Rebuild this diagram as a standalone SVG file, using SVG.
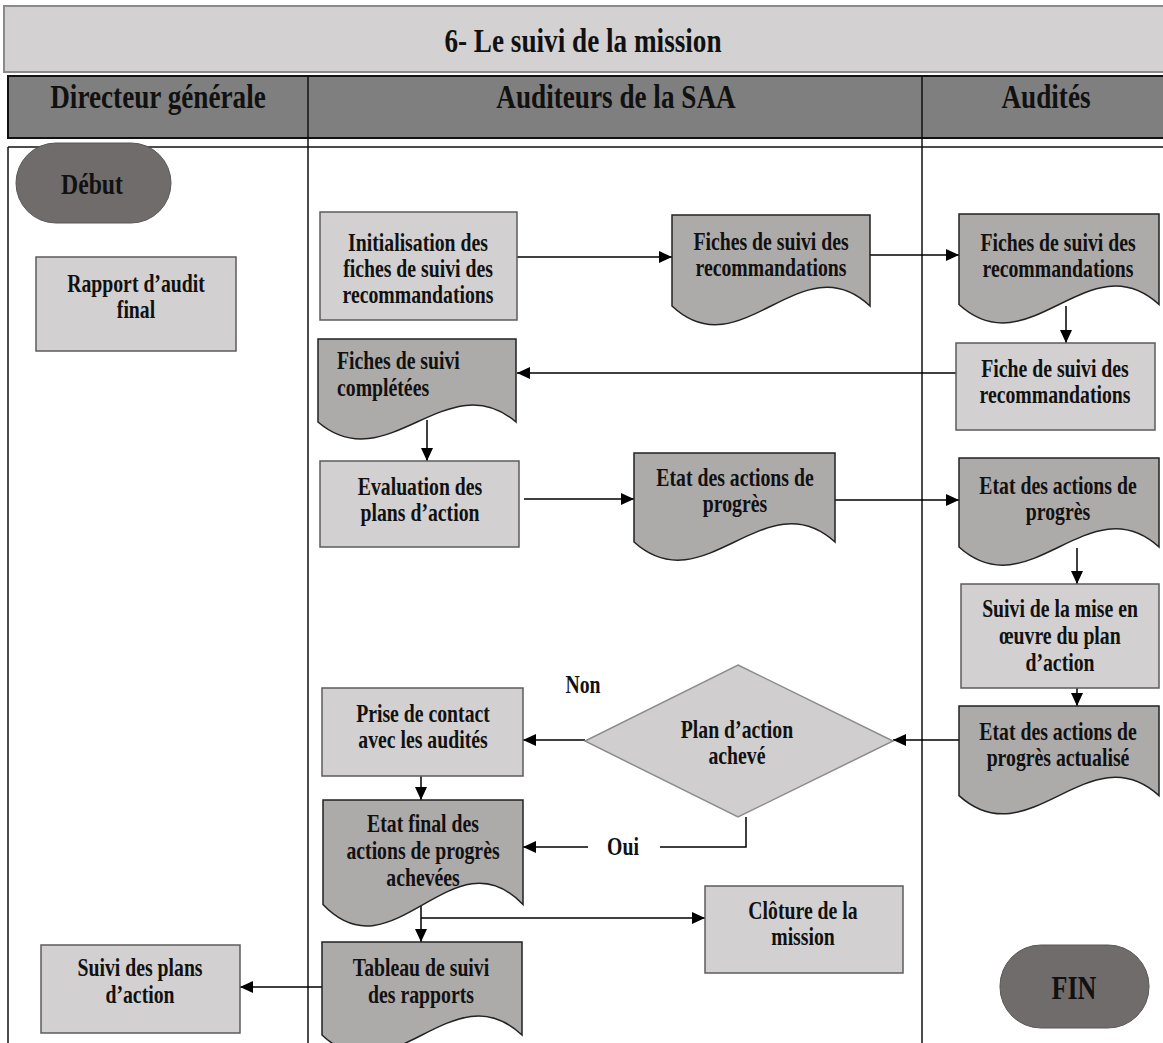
<svg xmlns="http://www.w3.org/2000/svg" width="1163" height="1043" viewBox="0 0 1163 1043">
  <defs>
    <marker id="arrow" markerUnits="userSpaceOnUse" markerWidth="13" markerHeight="12" refX="13" refY="6" orient="auto">
      <path d="M0,0 L13,6 L0,12 Z" fill="#000"/>
    </marker>
    <style>
      .txt { font-family: "Liberation Serif", "Times New Roman", serif; font-weight: bold; font-size: 25px; fill: #111; text-anchor: middle; }
      .left { text-anchor: start; }
      .head { font-size: 34px; }
      .term-t { font-size: 30px; }
      .proc { fill: #d2d0d1; stroke: #5c5c5c; stroke-width: 1.5; }
      .doc { fill: #adaaaa; stroke: #222; stroke-width: 1.5; }
      .term { fill: #706c6c; stroke: #5a5757; stroke-width: 1; }
      .dec { fill: #d0cece; stroke: #8c8c8c; stroke-width: 1.5; }
      .lane { stroke: #111; stroke-width: 1.5; fill: none; }
      .conn { stroke: #000; stroke-width: 1.5; fill: none; }
      .conn.a { marker-end: url(#arrow); }
    </style>
  </defs>

  <rect width="1163" height="1043" fill="#fff"/>

  <!-- swimlane frame: title band, lane headers, lane borders -->
  <g id="frame">
    <rect x="4" y="6" width="1160" height="66" fill="#d3d1d2" stroke="#8a8a8a" stroke-width="2"/>
    <text class="txt head" transform="translate(583 0) scale(0.8 1)"><tspan x="0" y="52">6- Le suivi de la mission</tspan></text>
    <rect x="8" y="76" width="1156" height="62" fill="#7f7f7f" stroke="#111" stroke-width="2"/>
    <line x1="308" y1="76" x2="308" y2="138" stroke="#111" stroke-width="1.5"/>
    <line x1="922" y1="76" x2="922" y2="138" stroke="#111" stroke-width="1.5"/>
    <text class="txt head" transform="translate(158 0) scale(0.8 1)"><tspan x="0" y="108">Directeur générale</tspan></text>
    <text class="txt head" transform="translate(616 0) scale(0.8 1)"><tspan x="0" y="108">Auditeurs de la SAA</tspan></text>
    <text class="txt head" transform="translate(1046 0) scale(0.8 1)"><tspan x="0" y="108">Audités</tspan></text>
    <line class="lane" x1="8" y1="147" x2="1163" y2="147" stroke-width="2"/>
    <line class="lane" x1="8" y1="147" x2="8" y2="1043"/>
    <line class="lane" x1="308" y1="138" x2="308" y2="1043"/>
    <line class="lane" x1="922" y1="138" x2="922" y2="1043"/>
  </g>

  <!-- connectors -->
  <g id="connectors">
    <line class="conn a" x1="517" y1="257" x2="672" y2="257"/>
    <line class="conn a" x1="870" y1="255" x2="959" y2="255"/>
    <line class="conn a" x1="1066" y1="306" x2="1066" y2="343"/>
    <line class="conn a" x1="956" y1="373" x2="517" y2="373"/>
    <line class="conn a" x1="427" y1="420" x2="427" y2="461"/>
    <line class="conn a" x1="524" y1="499" x2="634" y2="499"/>
    <line class="conn a" x1="835" y1="500" x2="959" y2="500"/>
    <line class="conn a" x1="1077" y1="548" x2="1077" y2="584"/>
    <line class="conn a" x1="1077" y1="688" x2="1077" y2="706"/>
    <line class="conn a" x1="959" y1="740" x2="893" y2="740"/>
    <line class="conn a" x1="585" y1="740" x2="523" y2="740"/>
    <line class="conn a" x1="421" y1="776" x2="421" y2="800"/>
    <polyline class="conn" points="746,817 746,847 660,847"/>
    <line class="conn a" x1="588" y1="847" x2="523" y2="847"/>
    <line class="conn a" x1="421" y1="905" x2="421" y2="942"/>
    <line class="conn a" x1="421" y1="918" x2="705" y2="918"/>
    <line class="conn a" x1="322" y1="987" x2="240" y2="987"/>
  </g>

  <g id="debut">
    <rect class="term" x="16" y="143" width="155" height="80" rx="40" ry="40"/>
    <text class="txt term-t" transform="translate(92 0) scale(0.79 1)"><tspan x="0" y="194">Début</tspan></text>
  </g>

  <g id="rapport-audit">
    <rect class="proc" x="36" y="257" width="200" height="94"/>
    <text class="txt" transform="translate(136 0) scale(0.79 1)"><tspan x="0" y="292">Rapport d’audit</tspan><tspan x="0" y="318">final</tspan></text>
  </g>

  <g id="initialisation">
    <rect class="proc" x="320" y="212" width="197" height="108"/>
    <text class="txt" transform="translate(418 0) scale(0.79 1)"><tspan x="0" y="251">Initialisation des</tspan><tspan x="0" y="277">fiches de suivi des</tspan><tspan x="0" y="303">recommandations</tspan></text>
  </g>

  <g id="fiches-saa">
    <path class="doc" d="M672,215 H870 V306 C801,241 741,371 672,306 Z"/>
    <text class="txt" transform="translate(771 0) scale(0.79 1)"><tspan x="0" y="250">Fiches de suivi des</tspan><tspan x="0" y="276">recommandations</tspan></text>
  </g>

  <g id="fiches-audites">
    <path class="doc" d="M959,214 H1159 V304.5 C1089,240.5 1029,368.5 959,304.5 Z"/>
    <text class="txt" transform="translate(1058 0) scale(0.79 1)"><tspan x="0" y="251">Fiches de suivi des</tspan><tspan x="0" y="277">recommandations</tspan></text>
  </g>

  <g id="fiche-suivi">
    <rect class="proc" x="956" y="343" width="199" height="87"/>
    <text class="txt" transform="translate(1055 0) scale(0.79 1)"><tspan x="0" y="377">Fiche de suivi des</tspan><tspan x="0" y="403">recommandations</tspan></text>
  </g>

  <g id="fiches-completees">
    <path class="doc" d="M318,339 H516 V422 C447,363 387,481 318,422 Z"/>
    <text class="txt left" transform="translate(337 0) scale(0.79 1)"><tspan x="0" y="369">Fiches de suivi</tspan><tspan x="0" y="396">complétées</tspan></text>
  </g>

  <g id="evaluation">
    <rect class="proc" x="320" y="461" width="199" height="86"/>
    <text class="txt" transform="translate(420 0) scale(0.79 1)"><tspan x="0" y="495">Evaluation des</tspan><tspan x="0" y="521">plans d’action</tspan></text>
  </g>

  <g id="etat-saa">
    <path class="doc" d="M634,453 H835 V542 C765,479 704,605 634,542 Z"/>
    <text class="txt" transform="translate(735 0) scale(0.79 1)"><tspan x="0" y="486">Etat des actions de</tspan><tspan x="0" y="512">progrès</tspan></text>
  </g>

  <g id="etat-audites">
    <path class="doc" d="M959,458 H1159 V547 C1089,484 1029,610 959,547 Z"/>
    <text class="txt" transform="translate(1058 0) scale(0.79 1)"><tspan x="0" y="494">Etat des actions de</tspan><tspan x="0" y="520">progrès</tspan></text>
  </g>

  <g id="suivi-mise-en-oeuvre">
    <rect class="proc" x="961" y="584" width="198" height="104"/>
    <text class="txt" transform="translate(1060 0) scale(0.79 1)"><tspan x="0" y="617">Suivi de la mise en</tspan><tspan x="0" y="644">œuvre du plan</tspan><tspan x="0" y="671">d’action</tspan></text>
  </g>

  <g id="etat-actualise">
    <path class="doc" d="M959,706 H1159 V795.6 C1089,732 1029,859 959,795.6 Z"/>
    <text class="txt" transform="translate(1058 0) scale(0.79 1)"><tspan x="0" y="740">Etat des actions de</tspan><tspan x="0" y="766">progrès actualisé</tspan></text>
  </g>

  <g id="plan-acheve">
    <polygon class="dec" points="738,665 893,741 738,817 585,741"/>
    <text class="txt" transform="translate(737 0) scale(0.79 1)"><tspan x="0" y="738">Plan d’action</tspan><tspan x="0" y="764">achevé</tspan></text>
  </g>

  <g id="label-non">
    <text class="txt" transform="translate(583 0) scale(0.79 1)"><tspan x="0" y="693">Non</tspan></text>
  </g>

  <g id="label-oui">
    <text class="txt" transform="translate(623 0) scale(0.79 1)"><tspan x="0" y="855">Oui</tspan></text>
  </g>

  <g id="prise-contact">
    <rect class="proc" x="322" y="688" width="201" height="88"/>
    <text class="txt" transform="translate(423 0) scale(0.79 1)"><tspan x="0" y="722">Prise de contact</tspan><tspan x="0" y="748">avec les audités</tspan></text>
  </g>

  <g id="etat-final">
    <path class="doc" d="M323,800 H523 V904.6 C453,830.6 393,978.6 323,904.6 Z"/>
    <text class="txt" transform="translate(423 0) scale(0.79 1)"><tspan x="0" y="832">Etat final des</tspan><tspan x="0" y="859">actions de progrès</tspan><tspan x="0" y="886">achevées</tspan></text>
  </g>

  <g id="cloture">
    <rect class="proc" x="705" y="886" width="198" height="87"/>
    <text class="txt" transform="translate(803 0) scale(0.79 1)"><tspan x="0" y="919">Clôture de la</tspan><tspan x="0" y="945">mission</tspan></text>
  </g>

  <g id="tableau-suivi">
    <path class="doc" d="M322,942 H522 V1035 C452,969 392,1101 322,1035 Z"/>
    <text class="txt" transform="translate(421 0) scale(0.79 1)"><tspan x="0" y="976">Tableau de suivi</tspan><tspan x="0" y="1003">des rapports</tspan></text>
  </g>

  <g id="suivi-plans">
    <rect class="proc" x="41" y="945" width="199" height="88"/>
    <text class="txt" transform="translate(140 0) scale(0.79 1)"><tspan x="0" y="976">Suivi des plans</tspan><tspan x="0" y="1003">d’action</tspan></text>
  </g>

  <g id="fin">
    <rect class="term" x="1000" y="945" width="149" height="83" rx="41" ry="41"/>
    <text class="txt term-t" transform="translate(1074 0) scale(0.79 1)" style="font-size:33px"><tspan x="0" y="999">FIN</tspan></text>
  </g>
</svg>
